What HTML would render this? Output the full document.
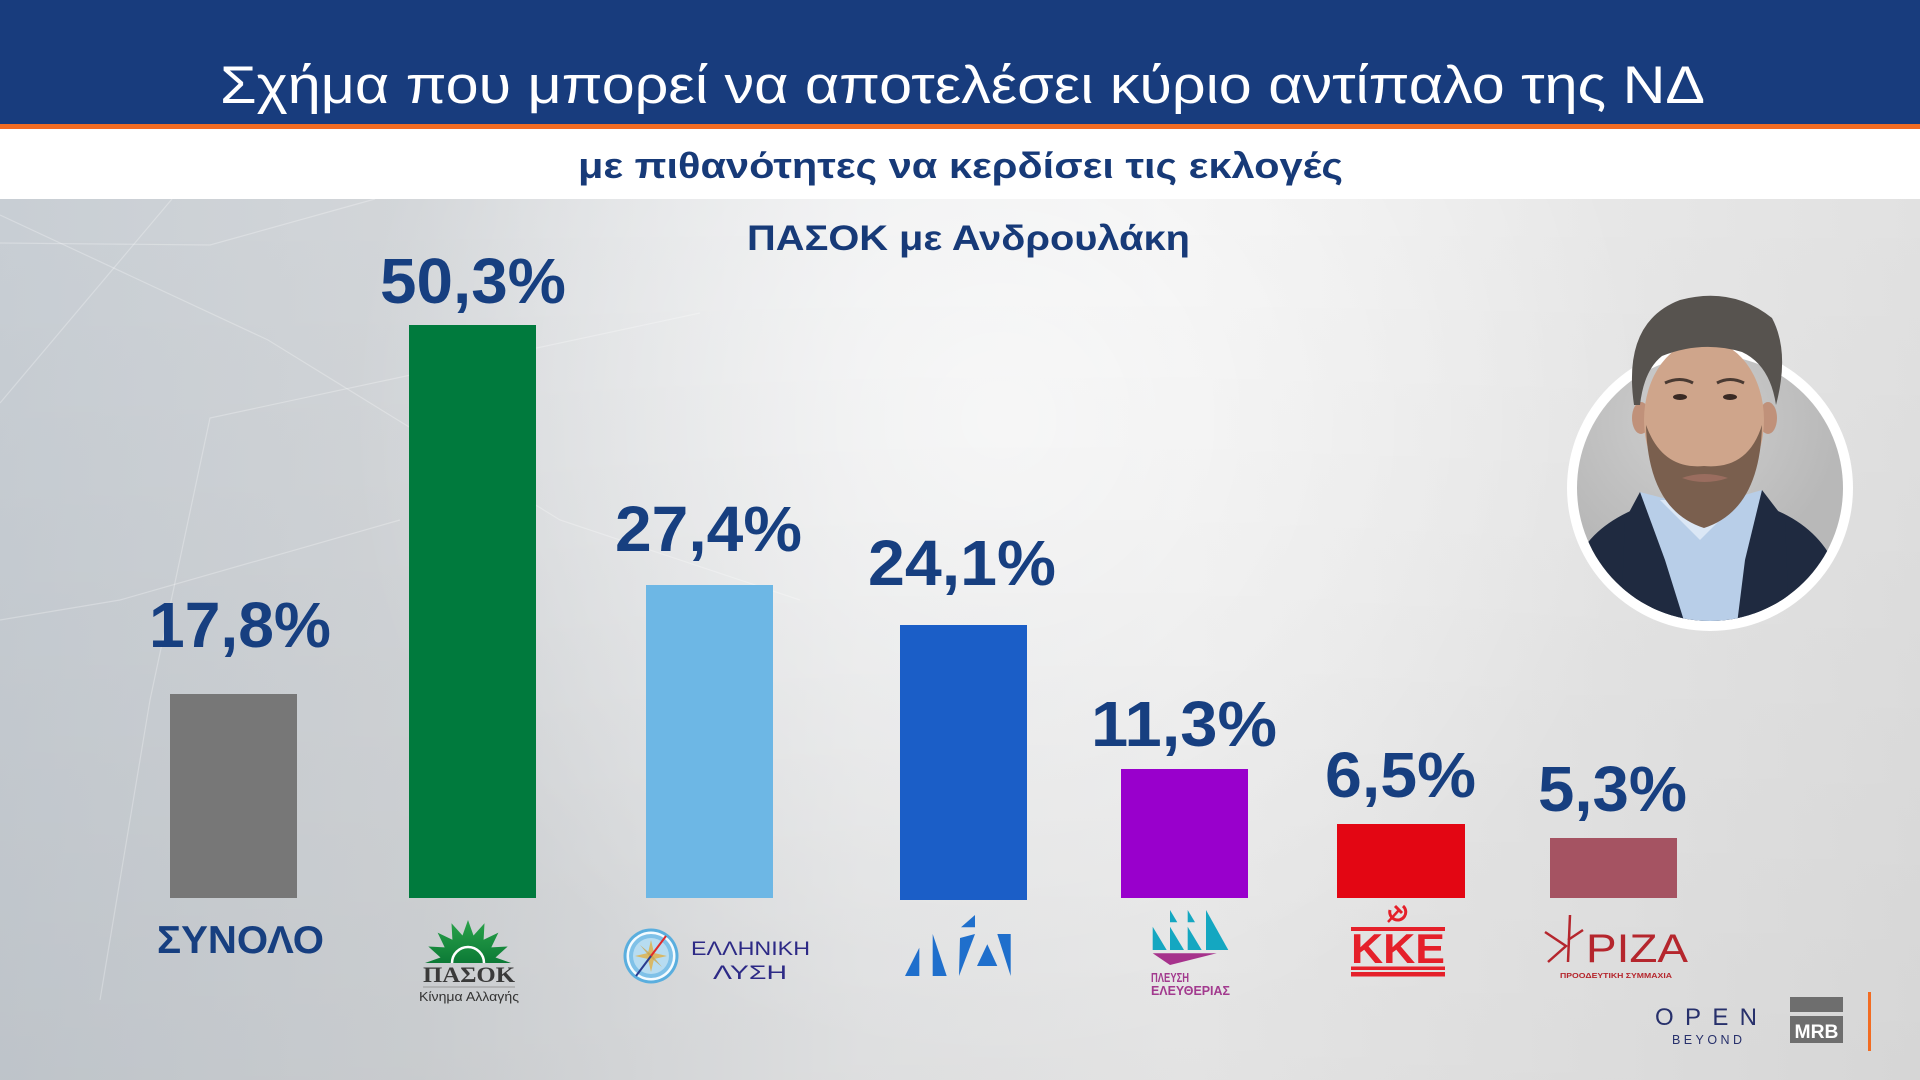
<!DOCTYPE html>
<html><head><meta charset="utf-8"><style>
html,body{margin:0;padding:0;width:1920px;height:1080px;overflow:hidden;background:#e6e6e6}
svg{display:block}
text{font-family:"Liberation Sans","DejaVu Sans",sans-serif}
</style></head><body>
<svg width="1920" height="1080" viewBox="0 0 1920 1080" xmlns="http://www.w3.org/2000/svg">
<defs>
<linearGradient id="bgh" x1="0" y1="0" x2="1" y2="0">
<stop offset="0" stop-color="#c8ced4"/><stop offset="0.22" stop-color="#d3d6d9"/><stop offset="0.45" stop-color="#e9eaeb"/><stop offset="0.62" stop-color="#efefef"/><stop offset="1" stop-color="#e1e1e1"/>
</linearGradient>
<radialGradient id="glow" cx="1000" cy="420" r="650" gradientUnits="userSpaceOnUse">
<stop offset="0" stop-color="#ffffff" stop-opacity="0.7"/><stop offset="1" stop-color="#ffffff" stop-opacity="0"/>
</radialGradient>
<linearGradient id="bgv" x1="0" y1="0" x2="0" y2="1">
<stop offset="0" stop-color="#000" stop-opacity="0"/><stop offset="1" stop-color="#000" stop-opacity="0.05"/>
</linearGradient>
<linearGradient id="sun" x1="0" y1="0" x2="0" y2="1">
<stop offset="0" stop-color="#2aa34a"/><stop offset="1" stop-color="#0c7a36"/>
</linearGradient>
<radialGradient id="photobg" cx="1690" cy="420" r="150" gradientUnits="userSpaceOnUse">
<stop offset="0" stop-color="#cfcfcf"/><stop offset="1" stop-color="#b8b8b8"/>
</radialGradient>
<clipPath id="pc"><circle cx="1710" cy="488" r="133"/></clipPath>
</defs>

<!-- background -->
<rect x="0" y="199" width="1920" height="881" fill="url(#bgh)"/>
<rect x="0" y="199" width="1920" height="881" fill="url(#glow)"/>
<rect x="0" y="199" width="1920" height="881" fill="url(#bgv)"/>
<g stroke="#ffffff" stroke-opacity="0.28" stroke-width="1.2" fill="none">
<polyline points="0,215 268,340 560,520 800,600"/>
<polyline points="172,199 0,403"/>
<polyline points="0,243 210,245 375,199"/>
<polyline points="700,313 210,418 150,700 100,1000"/>
<polyline points="0,620 120,600 400,520"/>
</g>

<!-- header -->
<rect x="0" y="0" width="1920" height="124" fill="#183c7d"/>
<rect x="0" y="124" width="1920" height="5" fill="#f26c22"/>
<rect x="0" y="129" width="1920" height="70" fill="#ffffff"/>
<text x="220" y="103" font-size="53" fill="#ffffff" textLength="1485" lengthAdjust="spacingAndGlyphs">Σχήμα που μπορεί να αποτελέσει κύριο αντίπαλο της ΝΔ</text>
<text x="578" y="178" font-size="36" font-weight="bold" fill="#173a78" textLength="765" lengthAdjust="spacingAndGlyphs">με πιθανότητες να κερδίσει τις εκλογές</text>
<text x="747" y="250" font-size="35" font-weight="bold" fill="#173a78" textLength="443" lengthAdjust="spacingAndGlyphs">ΠΑΣΟΚ με Ανδρουλάκη</text>

<!-- bars -->
<rect x="170" y="694" width="127" height="204" fill="#777777"/>
<rect x="409" y="325" width="127" height="573" fill="#007a3d"/>
<rect x="646" y="585" width="127" height="313" fill="#6db7e5"/>
<rect x="900" y="625" width="127" height="275" fill="#1b5ec7"/>
<rect x="1121" y="769" width="127" height="129" fill="#9900cc"/>
<rect x="1337" y="824" width="128" height="74" fill="#e30613"/>
<rect x="1550" y="838" width="127" height="60" fill="#a55362"/>

<!-- value labels -->
<g font-size="64" font-weight="bold" fill="#173f80">
<text x="149" y="647" textLength="182" lengthAdjust="spacingAndGlyphs">17,8%</text>
<text x="380" y="303" textLength="186" lengthAdjust="spacingAndGlyphs">50,3%</text>
<text x="615" y="551" textLength="187" lengthAdjust="spacingAndGlyphs">27,4%</text>
<text x="868" y="585" textLength="188" lengthAdjust="spacingAndGlyphs">24,1%</text>
<text x="1091" y="746" textLength="186" lengthAdjust="spacingAndGlyphs">11,3%</text>
<text x="1325" y="797" textLength="151" lengthAdjust="spacingAndGlyphs">6,5%</text>
<text x="1538" y="811" textLength="149" lengthAdjust="spacingAndGlyphs">5,3%</text>
</g>

<!-- ΣΥΝΟΛΟ -->
<text x="157" y="953" font-size="39" font-weight="bold" fill="#173f80" textLength="167" lengthAdjust="spacingAndGlyphs">ΣΥΝΟΛΟ</text>

<!-- PASOK -->
<polygon fill="url(#sun)" points="511,963 495.5,957.5 507.7,946.5 491.3,947.4 498.4,932.6 483.6,939.7 484.5,923.3 473.5,935.5 468,920 462.5,935.5 451.5,923.3 452.4,939.7 437.6,932.6 444.7,947.4 428.3,946.5 440.5,957.5 425,963"/>
<path d="M452 963 A16 16 0 0 1 484 963" stroke="#ffffff" stroke-width="2.5" fill="none"/>
<text x="423" y="982" font-size="22" font-weight="bold" fill="#3a3a3a" textLength="92" lengthAdjust="spacingAndGlyphs" style="font-family:'Liberation Serif',serif">ΠΑΣΟΚ</text>
<rect x="423" y="986.5" width="92" height="1" fill="#9a9a9a"/>
<text x="419" y="1001" font-size="12.5" fill="#333333" textLength="100" lengthAdjust="spacingAndGlyphs">Κίνημα Αλλαγής</text>

<!-- Ελληνική Λύση -->
<circle cx="651" cy="956" r="27.5" fill="#5aaede"/>
<circle cx="651" cy="956" r="24.5" fill="#f4fbff"/>
<circle cx="651" cy="956" r="22" fill="#7fc1e8"/>
<circle cx="651" cy="956" r="18" fill="#b7dcf1"/>
<polygon points="651,940 654,953 667,956 654,959 651,972 648,959 635,956 648,953" fill="#d8b866"/>
<polygon points="640,945 652,955 662,967 650,957" fill="#caa550" opacity="0.8"/>
<line x1="651" y1="956" x2="666" y2="936" stroke="#e02b2b" stroke-width="2"/>
<line x1="651" y1="956" x2="636" y2="976" stroke="#2a3c8f" stroke-width="2"/>
<text x="691" y="955" font-size="19" fill="#2d2a86" textLength="119" lengthAdjust="spacingAndGlyphs">ΕΛΛΗΝΙΚΗ</text>
<text x="713" y="979" font-size="19" fill="#2d2a86" textLength="74" lengthAdjust="spacingAndGlyphs">ΛΥΣΗ</text>

<!-- ΝΔ -->
<g fill="#1f6fcc">
<polygon points="905,976 919.3,947.7 919.3,976"/>
<polygon points="932.7,934 946.7,976 932.7,976"/>
<polygon points="960,938 975,934 959,976"/>
<polygon points="961,927.3 975,915 975,927.3"/>
<polygon points="977,966 987.3,944.3 997.3,966"/>
<polygon points="997.3,934 1010.7,934 1010.7,976"/>
</g>

<!-- Πλεύση Ελευθερίας -->
<g fill="#14a7c1">
<polygon points="1152.7,926.7 1152.7,950 1166.7,950"/>
<polygon points="1170,926.7 1170,950 1184,950"/>
<polygon points="1187.7,926.7 1187.7,950 1201.7,950"/>
<polygon points="1206,910 1206,950 1228.3,950"/>
<polygon points="1170,910 1170,922.3 1177.3,922.3"/>
<polygon points="1187.7,910 1187.7,922.3 1195,922.3"/>
</g>
<polygon points="1152.7,953.3 1216.7,953.3 1170,965" fill="#a6328c"/>
<text x="1151" y="982" font-size="13" font-weight="bold" fill="#a23a8e" textLength="38" lengthAdjust="spacingAndGlyphs">ΠΛΕΥΣΗ</text>
<text x="1151" y="995" font-size="13" font-weight="bold" fill="#a23a8e" textLength="79" lengthAdjust="spacingAndGlyphs">ΕΛΕΥΘΕΡΙΑΣ</text>

<!-- ΚΚΕ -->
<g fill="#e5202a">
<rect x="1351" y="927" width="94" height="4"/>
<rect x="1351" y="966.5" width="94" height="3.5"/>
<rect x="1351" y="972" width="94" height="4.5"/>
<text x="1351" y="963" font-size="42" font-weight="bold" textLength="94" lengthAdjust="spacingAndGlyphs">ΚΚΕ</text>
</g>
<path d="M1390 910 A8 8 0 1 0 1403 906" stroke="#e5202a" stroke-width="3" fill="none"/>
<line x1="1388" y1="922" x2="1399" y2="910" stroke="#e5202a" stroke-width="2.5"/>
<line x1="1395" y1="906" x2="1402" y2="913" stroke="#e5202a" stroke-width="3"/>

<!-- ΣΥΡΙΖΑ -->
<path d="M1545 932 L1566 946 L1548 962 M1570 915 L1568 962 M1568 940 L1583 930" stroke="#b5262d" stroke-width="2.5" fill="none"/>
<text x="1586" y="962" font-size="40" fill="#b5262d" textLength="102" lengthAdjust="spacingAndGlyphs">ΡΙΖΑ</text>
<text x="1560" y="978" font-size="7" font-weight="bold" fill="#b5262d" textLength="112" lengthAdjust="spacingAndGlyphs">ΠΡΟΟΔΕΥΤΙΚΗ ΣΥΜΜΑΧΙΑ</text>

<!-- OPEN / MRB -->
<text x="1655" y="1025" font-size="24" fill="#27306b" textLength="102" lengthAdjust="spacing">OPEN</text>
<text x="1672" y="1044" font-size="12.5" fill="#27306b" textLength="70" lengthAdjust="spacing">BEYOND</text>
<rect x="1790" y="997" width="53" height="15" fill="#6e6e6e"/>
<rect x="1790" y="1016" width="53" height="27" fill="#6e6e6e"/>
<text x="1816.5" y="1038" font-size="19" font-weight="bold" fill="#ffffff" text-anchor="middle" textLength="44" lengthAdjust="spacingAndGlyphs">MRB</text>
<rect x="1868" y="992" width="3" height="59" fill="#f26c22"/>

<!-- photo -->
<circle cx="1710" cy="488" r="143" fill="#ffffff"/>
<circle cx="1710" cy="488" r="133" fill="url(#photobg)"/>
<g clip-path="url(#pc)">
<rect x="1678" y="470" width="50" height="40" fill="#b98a70"/>
<path d="M1550 660 L1575 565 Q1590 525 1645 505 L1700 522 L1762 505 Q1815 522 1835 565 L1870 660 Z" fill="#1f2a40"/>
<path d="M1640 492 L1700 508 L1762 490 L1752 640 L1680 640 Z" fill="#b8cee8"/>
<path d="M1640 492 L1665 560 L1690 640 L1620 640 L1625 520 Z" fill="#1f2a40"/>
<path d="M1762 490 L1745 560 L1735 640 L1790 640 L1785 520 Z" fill="#1f2a40"/>
<path d="M1660 500 L1700 540 L1740 500 L1720 500 L1700 520 L1680 500 Z" fill="#dbe7f5"/>
</g>
<ellipse cx="1641" cy="418" rx="9" ry="16" fill="#c0917a"/>
<ellipse cx="1768" cy="418" rx="9" ry="16" fill="#c0917a"/>
<ellipse cx="1704" cy="420" rx="60" ry="80" fill="#cfa58b"/>
<path d="M1646 425 Q1648 510 1704 528 Q1760 510 1762 425 Q1748 470 1704 466 Q1662 470 1646 425 Z" fill="#7a5f4e"/>
<path d="M1682 478 Q1704 470 1728 478 Q1704 486 1682 478 Z" fill="#9a6d5f"/>
<path d="M1634 405 Q1622 322 1680 300 Q1732 286 1772 318 Q1790 352 1776 405 Q1770 365 1742 352 Q1702 340 1662 356 Q1644 370 1640 405 Z" fill="#57534f"/>
<path d="M1665 383 Q1680 376 1693 383" stroke="#4a3a32" stroke-width="3" fill="none"/>
<path d="M1717 383 Q1730 376 1744 383" stroke="#4a3a32" stroke-width="3" fill="none"/>
<ellipse cx="1680" cy="397" rx="7" ry="3" fill="#3a2a24"/>
<ellipse cx="1730" cy="397" rx="7" ry="3" fill="#3a2a24"/>
</svg>
</body></html>
